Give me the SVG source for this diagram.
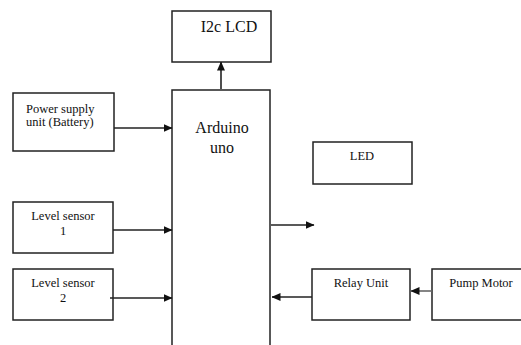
<svg xmlns="http://www.w3.org/2000/svg" width="521" height="345" viewBox="0 0 521 345">
<style>
.box{fill:#fff;stroke:#222;stroke-width:1.5}
.lbl{font-family:"Liberation Serif","Times New Roman",serif;font-size:12.5px;fill:#111}
.big{font-family:"Liberation Serif","Times New Roman",serif;font-size:16px;fill:#111}
.c{text-anchor:middle}
.edge{stroke:#222;stroke-width:1.6;fill:none}
</style>
<defs>
<marker id="ah" markerWidth="9" markerHeight="8" refX="8.5" refY="4" orient="auto" markerUnits="userSpaceOnUse">
<path d="M0,0 L9,4 L0,8 Z" fill="#111"/>
</marker>
</defs>
<rect width="521" height="345" fill="#fff"/>
<g id="lcd"><rect class="box" x="172" y="11" width="99" height="51"/><text class="big c" x="229" y="32">I2c LCD</text></g>
<g id="arduino"><rect class="box" x="172" y="90" width="98" height="260"/><text class="big c" x="222" y="133">Arduino</text><text class="big c" x="222" y="153">uno</text></g>
<g id="power"><rect class="box" x="13" y="93" width="101" height="58"/><text class="lbl" x="26" y="113">Power supply</text><text class="lbl" x="26" y="126">unit (Battery)</text></g>
<g id="level1"><rect class="box" x="13" y="202" width="100" height="51"/><text class="lbl c" x="63" y="220">Level sensor</text><text class="lbl c" x="63" y="235">1</text></g>
<g id="level2"><rect class="box" x="13" y="269" width="100" height="51"/><text class="lbl c" x="63" y="287">Level sensor</text><text class="lbl c" x="63" y="302">2</text></g>
<g id="led"><rect class="box" x="313" y="142" width="99" height="42"/><text class="lbl c" x="362" y="160">LED</text></g>
<g id="relay"><rect class="box" x="312" y="269" width="98" height="51"/><text class="lbl c" x="361" y="287">Relay Unit</text></g>
<g id="pump"><rect class="box" x="432" y="269" width="92" height="51"/><text class="lbl c" x="481" y="287">Pump Motor</text></g>
<g id="connectors">
<line class="edge" x1="221" y1="89" x2="221" y2="62" marker-end="url(#ah)"/>
<line class="edge" x1="114" y1="128" x2="172" y2="128" marker-end="url(#ah)"/>
<line class="edge" x1="113" y1="230" x2="172" y2="230" marker-end="url(#ah)"/>
<line class="edge" x1="110" y1="298" x2="172" y2="298" marker-end="url(#ah)"/>
<line class="edge" x1="271" y1="225" x2="314" y2="225" marker-end="url(#ah)"/>
<line class="edge" x1="312" y1="297" x2="272" y2="297" marker-end="url(#ah)"/>
<line class="edge" x1="432" y1="291" x2="411" y2="291" stroke="#666" style="stroke:#666" marker-end="url(#ah)"/>
</g>
</svg>
